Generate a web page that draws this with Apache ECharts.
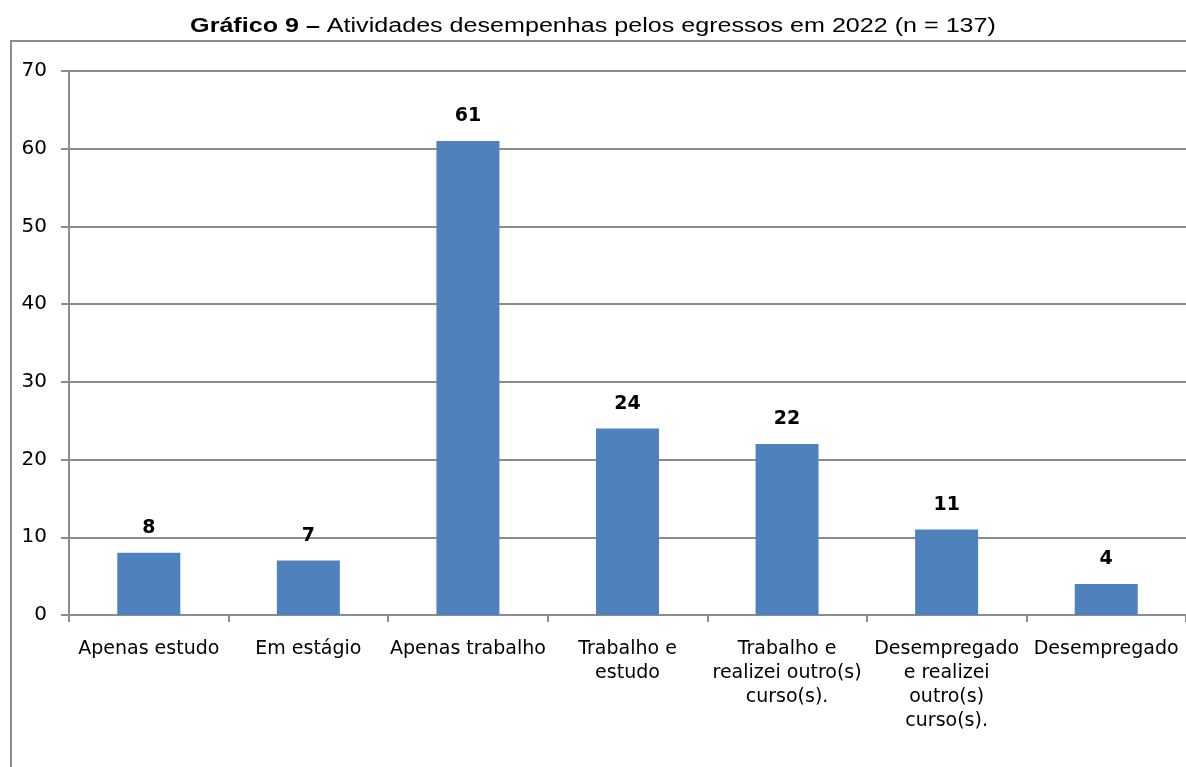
<!DOCTYPE html>
<html><head><meta charset="utf-8">
<script src="https://cdn.jsdelivr.net/npm/echarts@6/dist/echarts.min.js"></script>
<style>html,body{margin:0;padding:0;background:#fff}#c{width:1186px;height:767px}</style>
</head><body><div id="c"></div>
<script>
const categories = ["Apenas estudo", "Em estágio", "Apenas trabalho", "Trabalho e\nestudo", "Trabalho e\nrealizei outro(s)\ncurso(s).", "Desempregado\ne realizei\noutro(s)\ncurso(s).", "Desempregado"];
const values = [8, 7, 61, 24, 22, 11, 4];
const yTicks = [0, 10, 20, 30, 40, 50, 60, 70];
const titleBold = 'Gráfico 9 –';
const titleRest = ' Atividades desempenhas pelos egressos em 2022 (n = 137)';

const chart = echarts.init(document.getElementById('c'), null, {renderer: 'canvas'});
const axisGray = '#8c8c8c';
const labelFont = 'DejaVu Sans, sans-serif';
chart.setOption({
  animation: false,
  graphic: [{
    type: 'rect', shape: {x: 11, y: 41, width: 1200, height: 800},
    style: {fill: 'none', stroke: '#8c8c8c', lineWidth: 2}, silent: true, z: -1
  }, {
    type: 'text', x: 593, y: 26, scaleX: 1.255, scaleY: 1, silent: true,
    style: {
      text: '{b|' + titleBold + '}' + titleRest,
      align: 'center', verticalAlign: 'middle',
      fontFamily: 'Liberation Sans, Arial', fontSize: 20, fill: '#000',
      rich: { b: { fontFamily: 'Liberation Sans, Arial', fontSize: 20, fontWeight: 'bold', fill: '#000' } }
    }
  }],
  grid: {left: 69, top: 71, width: 1122, height: 544},
  xAxis: {
    type: 'category', data: categories,
    axisLine: {lineStyle: {color: axisGray, width: 2}},
    axisTick: {show: true, alignWithLabel: false, length: 7, lineStyle: {color: axisGray, width: 2}},
    axisLabel: {interval: 0, margin: 22, color: '#000', fontFamily: labelFont, fontSize: 19, lineHeight: 24, align: 'center'}
  },
  yAxis: {
    type: 'value', min: yTicks[0], max: yTicks[yTicks.length - 1], interval: 10,
    axisLine: {show: true, lineStyle: {color: axisGray, width: 2}},
    axisTick: {show: true, length: 8, lineStyle: {color: axisGray, width: 2}},
    axisLabel: {margin: 22, color: '#000', fontFamily: labelFont, fontSize: 20},
    splitLine: {lineStyle: {color: axisGray, width: 2}}
  },
  series: [{
    type: 'bar', data: values, barWidth: 63,
    itemStyle: {color: '#4F81BD'},
    label: {show: true, position: 'top', distance: 15, color: '#000', fontWeight: 'bold', fontSize: 19, fontFamily: labelFont}
  }]
});
</script></body></html>
